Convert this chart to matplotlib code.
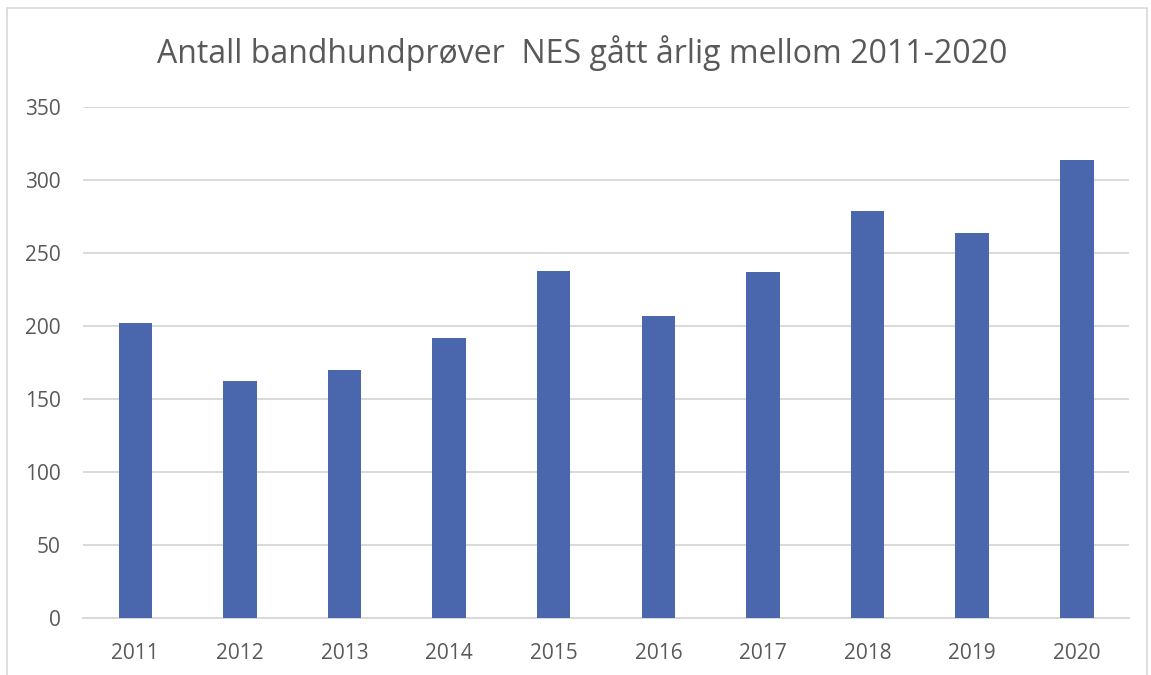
import matplotlib
matplotlib.use("Agg")
from matplotlib import pyplot as plt
from matplotlib.patches import Rectangle

# data
years = ["2011", "2012", "2013", "2014", "2015", "2016", "2017", "2018", "2019", "2020"]
antall = [202, 162, 170, 192, 238, 207, 237, 279, 264, 314]

plt.rcParams['font.family'] = ['Open Sans', 'DejaVu Sans']

fig = plt.figure(figsize=(11.51, 6.75), dpi=100)
ax = fig.add_axes([0.0721, 0.0844, 0.9089, 0.7571])

x = range(len(years))
ax.bar(x, antall, width=0.32, color='#4a66ac', zorder=3)

ax.set_xlim(-0.5, len(years) - 0.5)
ax.set_ylim(0, 350)
ax.set_yticks(range(0, 351, 50))
ax.set_xticks(list(x))
ax.set_xticklabels(years)

# rutenett
ax.grid(axis='y', color='#d9d9d9', linewidth=1.4, zorder=0)
for s in ['top', 'right', 'left']:
    ax.spines[s].set_visible(False)
ax.spines['bottom'].set_color('#d9d9d9')
ax.spines['bottom'].set_linewidth(1.4)
ax.tick_params(axis='both', length=0, labelsize=15, colors='#595959')
ax.tick_params(axis='y', pad=16)
ax.tick_params(axis='x', pad=18)

fig.text(0.506, 0.922, "Antall bandhundprøver  NES gått årlig mellom 2011-2020",
         ha='center', va='center', fontsize=23, color='#595959')

# ramme rundt figuren
fig.patches.append(Rectangle((7 / 1151, -0.05), 1140 / 1151, 1 - 8 / 675 + 0.05,
                             transform=fig.transFigure, fill=False,
                             edgecolor='#d9d9d9', linewidth=1.2))

fig.savefig("out.png", dpi=100)
